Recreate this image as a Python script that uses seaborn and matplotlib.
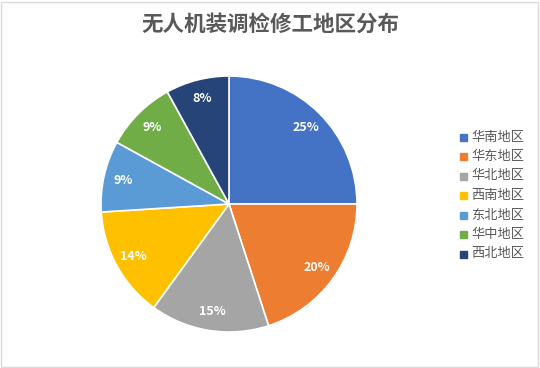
import matplotlib
matplotlib.use("Agg")
import matplotlib.pyplot as plt
import seaborn as sns
from matplotlib.patches import Rectangle

regions = ["华南地区", "华东地区", "华北地区", "西南地区", "东北地区", "华中地区", "西北地区"]
shares = [25, 20, 15, 14, 9, 9, 8]
colors = ["#4472C4", "#ED7D31", "#A5A5A5", "#FFC000", "#5B9BD5", "#70AD47", "#264478"]
title = "无人机装调检修工地区分布"

sns.set_theme(style="white")
plt.rcParams["font.family"] = ["Noto Sans CJK SC", "DejaVu Sans"]

H = 368

fig = plt.figure(figsize=(5.4, 3.68), dpi=100)
ax = fig.add_axes([0.0, 0.0, 1.0, 1.0])
ax.axis("off")

# outer frame
fig.patches.append(Rectangle((0.002, 0.003), 0.995, 0.992, transform=fig.transFigure,
                             fill=False, edgecolor="#D9D9D9", linewidth=1))

wedges, texts, autotexts = ax.pie(
    shares, colors=colors, startangle=90, counterclock=False,
    center=(229, H - 204), radius=128, labeldistance=None,
    autopct=lambda p: f"{p:.0f}%", pctdistance=0.85,
    wedgeprops=dict(edgecolor="white", linewidth=1.2),
    textprops=dict(color="white", fontsize=9, fontweight="bold"))
ax.set_xlim(0, 540)
ax.set_ylim(0, H)
ax.set_aspect("equal")

ax.text(270, H - 24, title, ha="center", va="center", fontsize=15.5,
        fontweight="bold", color="#595959")

for i, (name, c) in enumerate(zip(regions, colors)):
    y = H - (137 + i * 19.5)
    ax.add_patch(Rectangle((460, y - 3.5), 7, 7, color=c))
    ax.text(471, y, name, ha="left", va="center", fontsize=9.5, color="#595959")

fig.savefig("out.png", dpi=100)
